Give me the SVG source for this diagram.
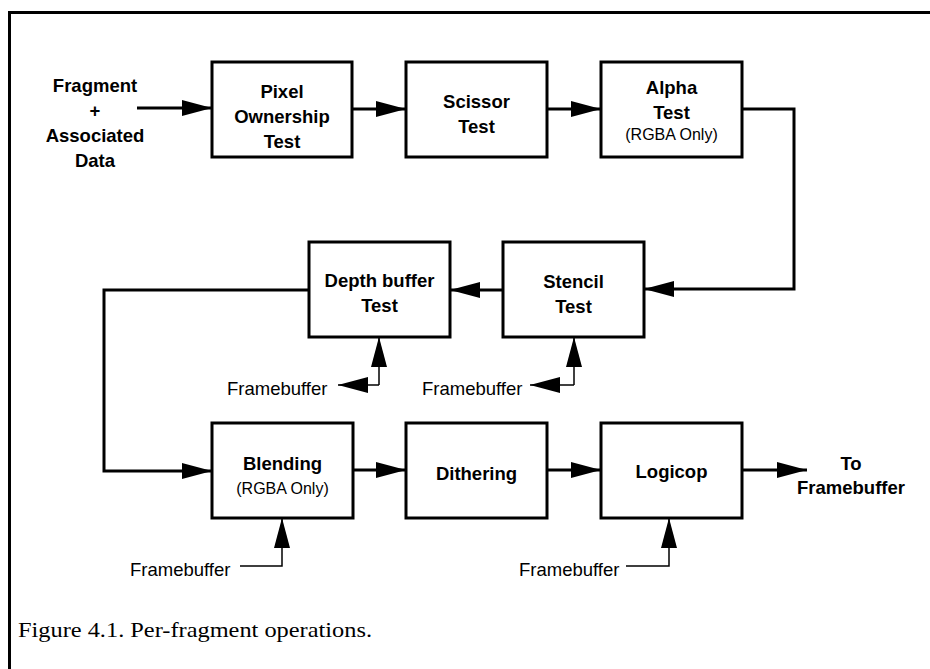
<svg xmlns="http://www.w3.org/2000/svg" width="930" height="669" viewBox="0 0 930 669">
<style>
.box{fill:#fff;stroke:#000;stroke-width:3}
.b{font-family:"Liberation Sans",Arial,sans-serif;font-weight:bold;font-size:18.5px;text-anchor:middle;fill:#000}
.r{font-family:"Liberation Sans",Arial,sans-serif;font-size:16px;text-anchor:middle;fill:#000}
.fb{font-family:"Liberation Sans",Arial,sans-serif;font-size:18.5px;fill:#000}
.thick{fill:none;stroke:#000;stroke-width:3}
.thin{fill:none;stroke:#000;stroke-width:1.5}
.cap{font-family:"Liberation Serif","Times New Roman",serif;font-size:21px;fill:#000}
</style>
<defs>
<marker id="ah" markerUnits="userSpaceOnUse" markerWidth="30" markerHeight="18" refX="30" refY="9" orient="auto">
<polygon points="0,1 30,9 0,17" fill="#000"/>
</marker>
</defs>
<rect width="930" height="669" fill="#fff"/>
<path d="M9.5,669 V12.5 H930" fill="none" stroke="#000" stroke-width="3"/>

<g id="input">
<text class="b" x="95" y="92">Fragment</text>
<text class="b" x="95" y="117">+</text>
<text class="b" x="95" y="142">Associated</text>
<text class="b" x="95" y="167">Data</text>
</g>

<g id="pixel">
<rect class="box" x="212" y="62" width="140" height="95"/>
<text class="b" x="282" y="98">Pixel</text>
<text class="b" x="282" y="123">Ownership</text>
<text class="b" x="282" y="148">Test</text>
</g>
<g id="scissor">
<rect class="box" x="406" y="62" width="141" height="95"/>
<text class="b" x="476.5" y="108">Scissor</text>
<text class="b" x="476.5" y="133">Test</text>
</g>
<g id="alpha">
<rect class="box" x="601" y="62" width="141" height="95"/>
<text class="b" x="671.5" y="94">Alpha</text>
<text class="b" x="671.5" y="119">Test</text>
<text class="r" x="671.5" y="140">(RGBA Only)</text>
</g>
<g id="stencil">
<rect class="box" x="503" y="242" width="141" height="95"/>
<text class="b" x="573.5" y="288">Stencil</text>
<text class="b" x="573.5" y="313">Test</text>
</g>
<g id="depth">
<rect class="box" x="309" y="242" width="141" height="95"/>
<text class="b" x="379.5" y="287">Depth buffer</text>
<text class="b" x="379.5" y="312">Test</text>
</g>
<g id="blending">
<rect class="box" x="212" y="423" width="141" height="95"/>
<text class="b" x="282.5" y="470">Blending</text>
<text class="r" x="282.5" y="494">(RGBA Only)</text>
</g>
<g id="dithering">
<rect class="box" x="406" y="423" width="141" height="95"/>
<text class="b" x="476.5" y="480">Dithering</text>
</g>
<g id="logicop">
<rect class="box" x="601" y="423" width="141" height="95"/>
<text class="b" x="671.5" y="478">Logicop</text>
</g>
<g id="output">
<text class="b" x="851" y="470">To</text>
<text class="b" x="851" y="494">Framebuffer</text>
</g>

<g id="fb-labels">
<text class="fb" x="227" y="395">Framebuffer</text>
<text class="fb" x="422" y="395">Framebuffer</text>
<text class="fb" x="130" y="576">Framebuffer</text>
<text class="fb" x="519" y="576">Framebuffer</text>
</g>

<g id="connectors">
<path class="thick" d="M137,108 H212" marker-end="url(#ah)"/>
<path class="thick" d="M352,109 H406" marker-end="url(#ah)"/>
<path class="thick" d="M547,109 H601" marker-end="url(#ah)"/>
<path class="thick" d="M742,109 H794 V289 H644" marker-end="url(#ah)"/>
<path class="thick" d="M503,290 H450" marker-end="url(#ah)"/>
<path class="thick" d="M309,290 H104 V471 H212" marker-end="url(#ah)"/>
<path class="thick" d="M353,470 H406" marker-end="url(#ah)"/>
<path class="thick" d="M547,470 H601" marker-end="url(#ah)"/>
<path class="thick" d="M742,470 H807" marker-end="url(#ah)"/>
<path class="thin" d="M379,385 V337" marker-end="url(#ah)"/>
<path class="thin" d="M379,385 H338" marker-end="url(#ah)"/>
<path class="thin" d="M574,385 V337" marker-end="url(#ah)"/>
<path class="thin" d="M574,385 H530" marker-end="url(#ah)"/>
<path class="thin" d="M240,566 H282 V518" marker-end="url(#ah)"/>
<path class="thin" d="M626,566 H669 V518" marker-end="url(#ah)"/>
</g>

<text class="cap" x="18" y="637" textLength="354" lengthAdjust="spacingAndGlyphs">Figure 4.1. Per-fragment operations.</text>
</svg>
